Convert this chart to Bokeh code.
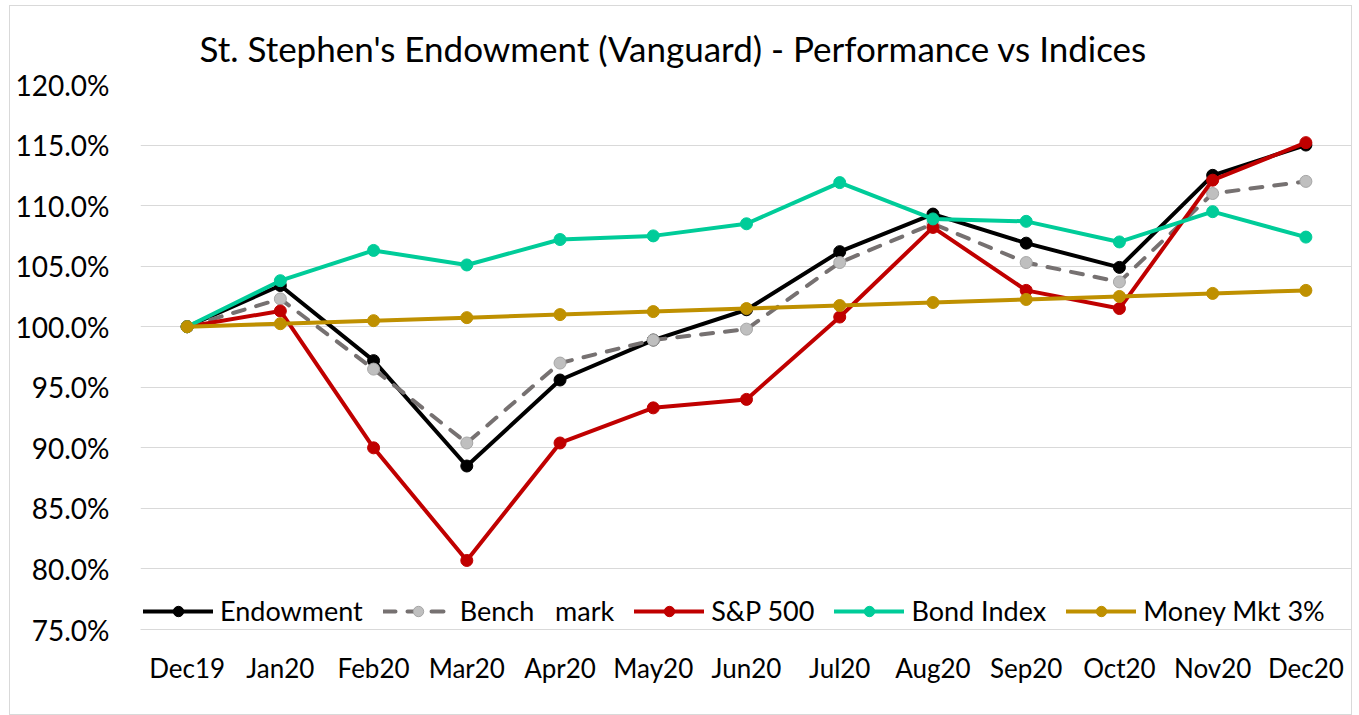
from bokeh.plotting import figure
from bokeh.models import Range1d, FixedTicker, PrintfTickFormatter, Legend, LegendItem, InlineStyleSheet
from bokeh.embed import file_html
from bokeh.resources import INLINE

months = ["Dec19", "Jan20", "Feb20", "Mar20", "Apr20", "May20", "Jun20",
          "Jul20", "Aug20", "Sep20", "Oct20", "Nov20", "Dec20"]
endowment = [100.0, 103.4, 97.2, 88.5, 95.6, 98.9, 101.4, 106.2, 109.3, 106.9, 104.9, 112.5, 115.0]
benchmark = [100.0, 102.3, 96.5, 90.4, 97.0, 98.9, 99.8, 105.3, 108.5, 105.3, 103.7, 111.0, 112.0]
sp500 = [100.0, 101.3, 90.0, 80.7, 90.4, 93.3, 94.0, 100.8, 108.2, 103.0, 101.5, 112.1, 115.2]
bond_index = [100.0, 103.8, 106.3, 105.1, 107.2, 107.5, 108.5, 111.9, 108.9, 108.7, 107.0, 109.5, 107.4]
money_mkt = [100.0, 100.25, 100.5, 100.75, 101.0, 101.25, 101.5, 101.75, 102.0, 102.25, 102.5, 102.75, 103.0]
y_ticks = [75, 80, 85, 90, 95, 100, 105, 110, 115, 120]

FONT = "Lato"

p = figure(x_range=months, y_range=Range1d(75, 120), width=1343, height=710,
           output_backend="svg", toolbar_location=None,
           min_border_left=130, min_border_right=1, min_border_top=78, min_border_bottom=87,
           title="St. Stephen's Endowment (Vanguard) - Performance vs Indices")
p.stylesheets = [InlineStyleSheet(css=":host { border: 1px solid #d9d9d9; margin-left: 9px; margin-top: 5px; }")]
p.outline_line_color = None
p.background_fill_color = "white"
p.border_fill_color = "white"

p.title.text_font = FONT
p.title.text_font_size = "35px"
p.title.text_font_style = "normal"
p.title.text_color = "black"
p.title.align = "left"
p.title.offset = 59
p.title.standoff = 31

p.xgrid.grid_line_color = None
p.ygrid.grid_line_color = "#d9d9d9"
p.ygrid.grid_line_width = 1

p.yaxis.ticker = FixedTicker(ticks=y_ticks)
p.yaxis.formatter = PrintfTickFormatter(format="%.1f%%")
p.yaxis.axis_line_color = None
p.yaxis.major_tick_line_color = None
p.yaxis.minor_tick_line_color = None
p.yaxis.major_tick_out = 0
p.yaxis.major_tick_in = 0
p.yaxis.major_label_standoff = 31
p.yaxis.major_label_text_font = FONT
p.yaxis.major_label_text_font_size = "28px"
p.yaxis.major_label_text_color = "black"

p.xaxis.axis_line_color = "#d9d9d9"
p.xaxis.axis_line_width = 1
p.xaxis.major_tick_line_color = None
p.xaxis.major_tick_out = 0
p.xaxis.major_tick_in = 0
p.xaxis.major_label_standoff = 22
p.xaxis.major_label_text_font = FONT
p.xaxis.major_label_text_font_size = "26px"
p.xaxis.major_label_text_color = "black"

series = [
    ("Endowment", endowment, "#000000", "#000000", "#000000", "solid"),
    ("Bench   mark", benchmark, "#767171", "#bfbfbf", "#a6a6a6", "12 12"),
    ("S&P 500", sp500, "#c00000", "#c00000", "#c00000", "solid"),
    ("Bond Index", bond_index, "#00cc99", "#00cc99", "#00cc99", "solid"),
    ("Money Mkt 3%", money_mkt, "#bf9000", "#bf9000", "#bf9000", "solid"),
]

items = []
for name, vals, lc, mf, ml, dash in series:
    r1 = p.line(months, vals, line_color=lc, line_width=4, line_dash=dash, line_cap="round")
    r2 = p.scatter(months, vals, marker="circle", size=12, fill_color=mf, line_color=ml, line_width=1)
    items.append(LegendItem(label=name, renderers=[r1, r2]))

legend = Legend(items=items, orientation="horizontal", location=(3, 2))
legend.background_fill_alpha = 0
legend.border_line_color = None
legend.padding = 0
legend.margin = 0
legend.spacing = 20
legend.glyph_width = 70
legend.glyph_height = 26
legend.label_height = 26
legend.label_standoff = 7
legend.label_text_font = FONT
legend.label_text_font_size = "27px"
legend.label_text_color = "black"
p.add_layout(legend, "center")

open("out.html", "w").write(file_html(p, INLINE))
